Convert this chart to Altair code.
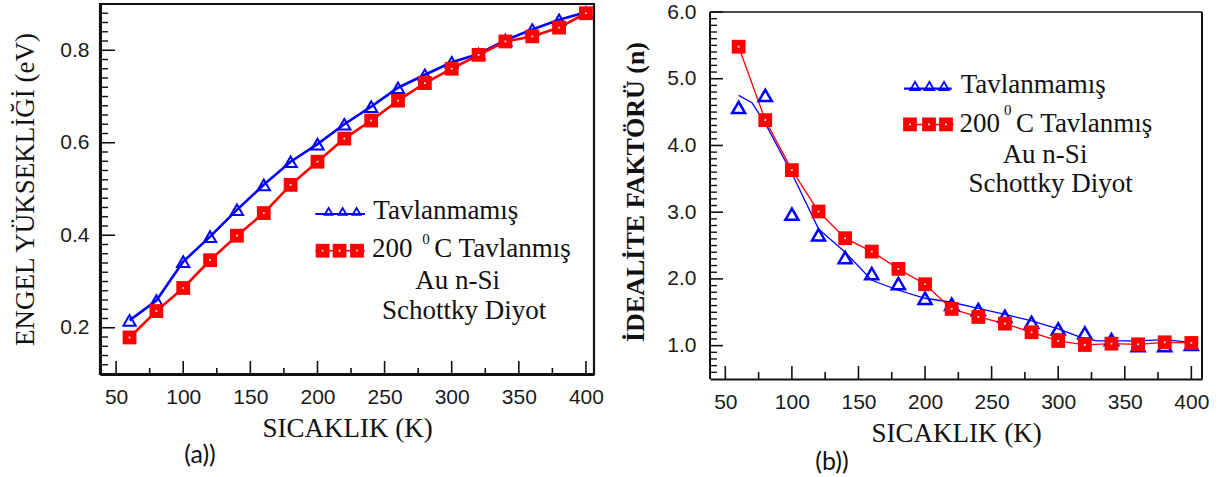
import altair as alt
import pandas as pd
import numpy as np

# ---------------- data ----------------
T = [60, 80, 100, 120, 140, 160, 180, 200, 220, 240, 260, 280, 300, 320, 340, 360, 380, 400]

# (a) barrier height (eV)
eb_unannealed = [0.216, 0.259, 0.343, 0.397, 0.455, 0.509, 0.559, 0.597, 0.640, 0.678,
                 0.719, 0.747, 0.774, 0.792, 0.822, 0.845, 0.866, 0.882]
eb_annealed = [0.179, 0.236, 0.286, 0.346, 0.399, 0.448, 0.509, 0.559, 0.609, 0.648,
               0.691, 0.729, 0.760, 0.790, 0.819, 0.830, 0.849, 0.880]

# (b) ideality factor
n_unannealed = [4.57, 4.75, 2.97, 2.66, 2.32, 2.08, 1.93, 1.71, 1.62, 1.54,
                1.44, 1.35, 1.25, 1.19, 1.09, 1.00, 1.00, 1.02]
n_annealed = [5.48, 4.38, 3.63, 3.01, 2.61, 2.41, 2.15, 1.92, 1.55, 1.43,
              1.33, 1.20, 1.07, 1.01, 1.03, 1.02, 1.05, 1.04]
fit_T = [60, 70, 80, 100, 120, 140, 160, 180, 200, 220, 240, 260, 280, 300, 320, 330, 360, 380, 400]
fit_n = [4.75, 4.64, 4.33, 3.58, 2.75, 2.40, 1.98, 1.83, 1.71, 1.65, 1.56, 1.47, 1.37, 1.25,
         1.10, 1.07, 1.07, 1.09, 1.05]

x_major = [50, 100, 150, 200, 250, 300, 350, 400]
x_minor = [75, 125, 175, 225, 275, 325, 375]
a_y_major = [0.2, 0.4, 0.6, 0.8]
a_y_minor = [v for v in np.round(np.arange(0.12, 0.9, 0.02), 2).tolist() if v not in a_y_major]
b_y_major = [1.0, 2.0, 3.0, 4.0, 5.0, 6.0]
b_y_minor = [v for v in np.round(np.arange(0.6, 6.0, 0.1), 1).tolist() if v not in b_y_major]

label_unann = "Tavlanmamış"
label_200 = "200"
label_sup = "0"
label_ann = "C Tavlanmış"
note1 = "Au n-Si"
note2 = "Schottky Diyot"
x_title = "SICAKLIK (K)"
a_y_title = "ENGEL YÜKSEKLİĞİ (eV)"
b_y_title = "İDEALİTE FAKTÖRÜ (n)"
tag_a = "(a))"
tag_b = "(b))"

BLUE = "#0000ff"
RED = "#ff0000"
INK = "#111111"
SERIF = "Liberation Serif, Times New Roman, serif"
SANS = "Liberation Sans, Arial, sans-serif"


def txt(s, x, y, size=27, align="left", font=SERIF):
    return alt.Chart(pd.DataFrame({"t": [s]})).mark_text(
        font=font, fontSize=size, align=align, baseline="alphabetic", color=INK
    ).encode(text="t:N", x=alt.value(x), y=alt.value(y))


def panel(W, H, xdom, ydom, ymaj, ymin, yfmt, ytitle, series_lines, series_pts,
          leg, tag, tagpos, lw, tri_size, tri_sw, ytick_len, xtick_len, label_pad_y,
          domain_w, ytitle_pad, dy, ytitle_style=(27, "normal"), frame_top=None):
    # dy: vertical offset (px) of the frame top below the view origin
    xs = alt.Scale(domain=xdom, nice=False, zero=False)
    ys = alt.Scale(domain=ydom, nice=False, zero=False)
    xaxis = alt.Axis(
        values=x_major, format="d", title=x_title, ticks=False, grid=False,
        domain=True, domainColor=INK, domainWidth=domain_w,
        labelFont=SANS, labelFontSize=21, labelColor="#1a1a1a", labelPadding=12,
        titleFont=SERIF, titleFontSize=27, titleFontWeight="normal", titleColor=INK,
        titlePadding=8)
    yaxis = alt.Axis(
        values=ymaj, format=yfmt, title=ytitle, ticks=False, grid=False,
        domain=(frame_top is None), domainColor=INK, domainWidth=domain_w,
        labelFont=SANS, labelFontSize=21, labelColor="#1a1a1a", labelPadding=label_pad_y,
        titleFont=SERIF, titleFontSize=ytitle_style[0], titleFontWeight=ytitle_style[1],
        titleColor=INK, titlePadding=ytitle_pad)

    def X(f):
        return alt.X(f, scale=xs, axis=xaxis, title=x_title)

    def Y(f):
        return alt.Y(f, scale=ys, axis=yaxis, title=ytitle)

    layers = []
    for (xv, yv, col) in series_lines:
        df = pd.DataFrame({"T": xv, "v": yv})
        layers.append(alt.Chart(df).mark_line(color=col, strokeWidth=lw).encode(x=X("T:Q"), y=Y("v:Q")))

    for (xv, yv, kind) in series_pts:
        df = pd.DataFrame({"T": xv, "v": yv})
        enc = dict(x=X("T:Q"), y=Y("v:Q"))
        if kind == "tri":
            layers.append(alt.Chart(df).mark_point(shape="triangle-up", filled=False, color=BLUE,
                                                   size=tri_size, strokeWidth=tri_sw, opacity=1).encode(**enc))
        else:
            layers.append(alt.Chart(df).mark_point(shape="square", filled=True, color=RED,
                                                   size=190, opacity=1).encode(**enc))
            layers.append(alt.Chart(df).mark_point(shape="square", filled=True, color="white",
                                                   size=3, opacity=1).encode(**enc))

    # inward ticks
    layers.append(alt.Chart(pd.DataFrame({"T": x_major})).mark_rule(color=INK, strokeWidth=1.6).encode(
        x=X("T:Q"), y=alt.value(H), y2=alt.value(H - xtick_len[0])))
    layers.append(alt.Chart(pd.DataFrame({"T": x_minor})).mark_rule(color=INK, strokeWidth=1.6).encode(
        x=X("T:Q"), y=alt.value(H), y2=alt.value(H - xtick_len[1])))
    layers.append(alt.Chart(pd.DataFrame({"v": ymaj})).mark_rule(color=INK, strokeWidth=1.6).encode(
        y=Y("v:Q"), x=alt.value(0), x2=alt.value(ytick_len[0])))
    layers.append(alt.Chart(pd.DataFrame({"v": ymin})).mark_rule(color=INK, strokeWidth=1.4).encode(
        y=Y("v:Q"), x=alt.value(0), x2=alt.value(ytick_len[1])))

    if frame_top is not None:
        fr = pd.DataFrame({"v": [frame_top], "v0": [ydom[0]]})
        layers.append(alt.Chart(fr).mark_rule(color=INK, strokeWidth=1.6).encode(
            y=Y("v:Q"), x=alt.value(0), x2=alt.value(W)))
        layers.append(alt.Chart(fr).mark_rule(color=INK, strokeWidth=2.0).encode(
            y=Y("v:Q"), y2=alt.Y2("v0:Q"), x=alt.value(W)))
        layers.append(alt.Chart(fr).mark_rule(color=INK, strokeWidth=domain_w).encode(
            y=Y("v:Q"), y2=alt.Y2("v0:Q"), x=alt.value(0)))

    # legend
    (bx0, bx1, by, btri, bty, btsize, btx, bbase,
     rx0, rx1, ry, rsq, rtx, rbase, supx, supbase, cx, ncx1, nb1, ncx2, nb2) = leg
    layers.append(alt.Chart(pd.DataFrame({"a": [0]})).mark_rule(color=BLUE, strokeWidth=2.2).encode(
        x=alt.value(bx0), x2=alt.value(bx1), y=alt.value(by + dy)))
    layers.append(alt.Chart(pd.DataFrame({"px": btri})).mark_point(
        shape="triangle-up", filled=False, color=BLUE, size=btsize, strokeWidth=1.8, opacity=1).encode(
        x=alt.X("px:Q", scale=None), y=alt.value(bty + dy)))
    layers.append(alt.Chart(pd.DataFrame({"a": [0]})).mark_rule(color=RED, strokeWidth=1.5).encode(
        x=alt.value(rx0), x2=alt.value(rx1), y=alt.value(ry + dy)))
    layers.append(alt.Chart(pd.DataFrame({"px": rsq})).mark_point(
        shape="square", filled=True, color=RED, size=190, opacity=1).encode(
        x=alt.X("px:Q", scale=None), y=alt.value(ry + dy)))
    layers.append(alt.Chart(pd.DataFrame({"px": rsq})).mark_point(
        shape="square", filled=True, color="white", size=3, opacity=1).encode(
        x=alt.X("px:Q", scale=None), y=alt.value(ry + dy)))
    layers.append(txt(label_unann, btx, bbase + dy))
    layers.append(txt(label_200, rtx, rbase + dy))
    layers.append(txt(label_sup, supx, supbase + dy, size=15))
    layers.append(txt(label_ann, cx, rbase + dy))
    layers.append(txt(note1, ncx1, nb1 + dy, align="center"))
    layers.append(txt(note2, ncx2, nb2 + dy, align="center"))
    layers.append(alt.Chart(pd.DataFrame({"t": [tag]})).mark_text(
        font="Lato", fontSize=25, align="center", baseline="middle", color=INK).encode(
        text="t:N", x=alt.value(tagpos[0]), y=alt.value(tagpos[1] + dy)))

    if frame_top is None:
        view = alt.ViewBackground(stroke=INK, strokeWidth=2.2, fill="white")
    else:
        view = alt.ViewBackground(stroke="transparent", strokeWidth=0, fill="white")
    return alt.layer(*layers).properties(width=W, height=H, view=view)


left = panel(
    494, 370, [38, 406], [0.1, 0.9], a_y_major, a_y_minor, ".1f", a_y_title,
    [(T, eb_unannealed, BLUE), (T, eb_annealed, RED)],
    [(T, eb_unannealed, "tri"), (T, eb_annealed, "sq")],
    (215.3, 265, 210, [228.6, 242.6, 256.6], 207.4, 64, 273.3, 215,
     215.3, 265, 246.7, [222.6, 239.6, 257], 272, 252.7, 322.3, 240, 334.3,
     357.6, 285, 364, 315),
    tag_a, (100, 451), 2.6, 150, 2.0, (15, 8), (13, 6), 11, 3.0, 20, 0)

# right panel: the view extends EXTRA px above its frame, so that the frame sits
# lower than the left one, as in the original figure
EXTRA = 8
PX_PER_UNIT = 367.0 / 5.5
right = panel(
    492, 367 + EXTRA, [38.5, 408], [0.5, 6.0 + EXTRA / PX_PER_UNIT], b_y_major, b_y_minor, ".1f",
    b_y_title,
    [(fit_T, fit_n, BLUE), (T, n_annealed, RED)],
    [(T, n_unannealed, "tri"), (T, n_annealed, "sq")],
    (194, 241.7, 76.7, [205, 219.4, 234], 74, 90, 250.7, 81.4,
     193.7, 243.7, 112.4, [200, 219, 236], 249.4, 119.7, 294, 102.7, 306,
     335, 150.7, 340.7, 180),
    tag_b, (122, 450), 1.3, 170, 2.5, (13, 7), (13, 7), 14, 2.0, 18, EXTRA,
    ytitle_style=(26, "bold"), frame_top=6.0)

chart = alt.hconcat(left, right, spacing=17).properties(
    padding={"left": 10, "top": 0, "right": 0, "bottom": 0},
    background="white")

chart.save("out.html", embed_options={"renderer": "svg", "actions": False})
